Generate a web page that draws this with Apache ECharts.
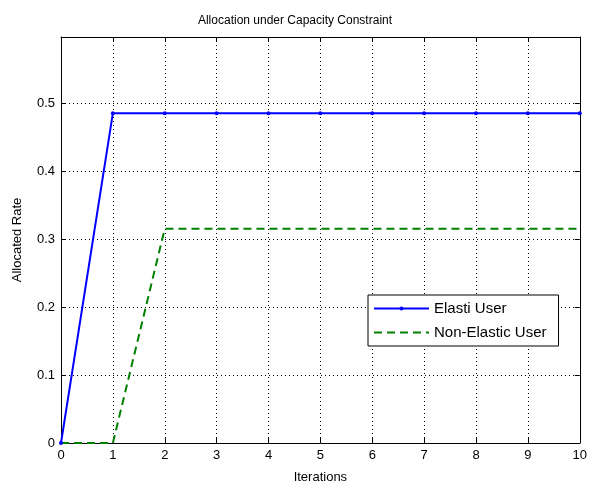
<!DOCTYPE html>
<html><head><meta charset="utf-8">
<script src="https://cdn.jsdelivr.net/npm/echarts@6/dist/echarts.min.js"></script>
<style>html,body{margin:0;padding:0;background:#fff}#c{width:590px;height:489px}</style>
</head><body><div id="c"></div>
<script>
const iterations = [0,1,2,3,4,5,6,7,8,9,10];
const elastic = [0,0.485,0.485,0.485,0.485,0.485,0.485,0.485,0.485,0.485,0.485];
const nonElastic = [0,0,0.315,0.315,0.315,0.315,0.315,0.315,0.315,0.315,0.315];
const yTicks = [0,0.1,0.2,0.3,0.4,0.5];

const chart = echarts.init(document.getElementById('c'));
const font = 'Liberation Sans, Arial, sans-serif';
const gridLine = {show:true, lineStyle:{color:'#000', type:[1,3], width:1}};
const axisLine = {show:true, onZero:false, lineStyle:{color:'#000', width:1}};
const tick = {show:true, inside:true, length:5, lineStyle:{color:'#000'}};
chart.setOption({
  animation:false,
  backgroundColor:'#fff',
  title:{text:'Allocation under Capacity Constraint', left:'center', top:10,
    textStyle:{fontFamily:font, fontSize:12, fontWeight:'normal', color:'#000'}},
  grid:{left:61, top:37, right:8, bottom:42},
  legend:{
    left:368, top:295, orient:'vertical',
    backgroundColor:'#fff', borderColor:'#000', borderWidth:1,
    padding:[6,12,6,5], itemGap:9, itemWidth:55, itemHeight:5,
    textStyle:{fontFamily:font, fontSize:15, color:'#000'},
    data:[{name:'Elasti User'},{name:'Non-Elastic User', itemStyle:{opacity:0}}]
  },
  xAxis:[{
    type:'value', min:0, max:10, interval:1,
    name:'Iterations', nameLocation:'middle', nameGap:28,
    nameTextStyle:{fontFamily:font, fontSize:13, color:'#000'},
    axisLine:axisLine, axisTick:tick, splitLine:gridLine,
    axisLabel:{fontFamily:font, fontSize:13, color:'#000', margin:6}
  },{
    type:'value', min:0, max:10, interval:1, position:'top',
    axisLine:axisLine, axisTick:tick, splitLine:{show:false}, axisLabel:{show:false}
  }],
  yAxis:[{
    type:'value', min:0, max:0.597, interval:0.1,
    name:'Allocated Rate', nameLocation:'middle', nameGap:37,
    nameTextStyle:{fontFamily:font, fontSize:13, color:'#000'},
    axisLine:axisLine, axisTick:tick, splitLine:gridLine,
    axisLabel:{fontFamily:font, fontSize:13, color:'#000', margin:6,
      formatter:v=> yTicks.some(t=>Math.abs(t-v)<1e-9) ? String(Math.round(v*10)/10) : ''}
  },{
    type:'value', min:0, max:0.597, interval:0.1, position:'right',
    axisLine:axisLine, axisTick:tick, splitLine:{show:false}, axisLabel:{show:false}
  }],
  series:[{
    name:'Elasti User', type:'line',
    data:iterations.map((x,i)=>[x,elastic[i]]),
    color:'#0000ff', symbol:'circle', symbolSize:4, showSymbol:true,
    lineStyle:{color:'#0000ff', width:2}, itemStyle:{color:'#0000ff'}, z:3
  },{
    name:'Non-Elastic User', type:'line',
    data:iterations.map((x,i)=>[x,nonElastic[i]]),
    color:'#008000', symbol:'none',
    lineStyle:{color:'#008000', width:2, type:[8,5]}, itemStyle:{color:'#008000'}, z:2
  }]
});
</script></body></html>
